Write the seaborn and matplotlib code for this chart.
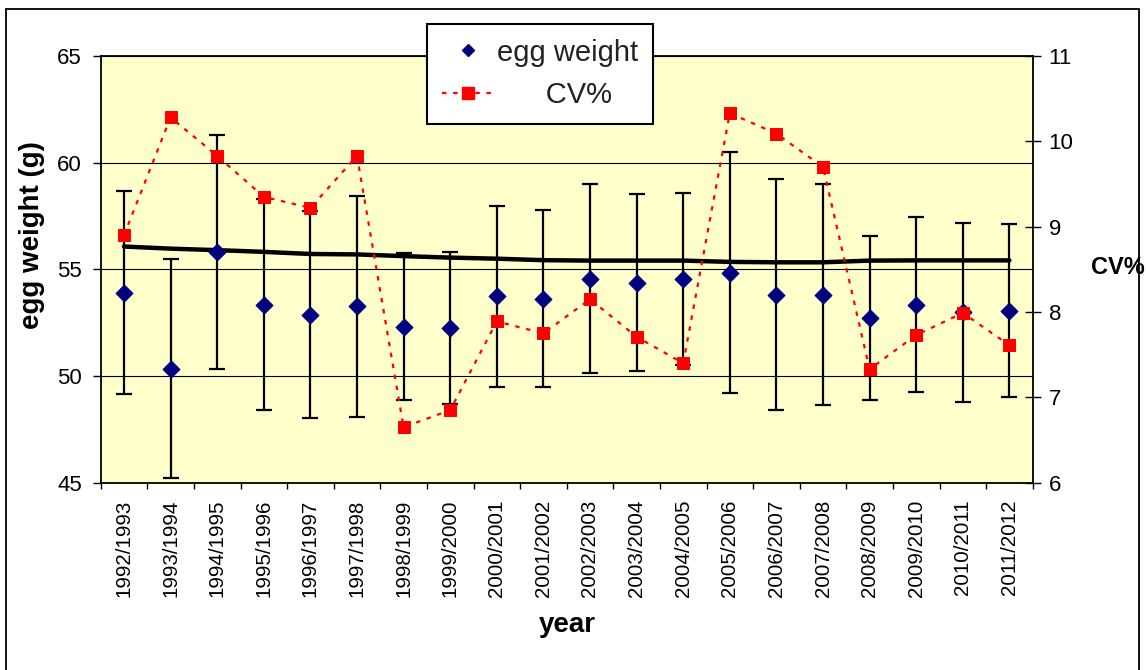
import numpy as np
import pandas as pd
import seaborn as sns
import matplotlib.pyplot as plt
from matplotlib.patches import Rectangle
from matplotlib.ticker import FixedLocator, NullFormatter

# data
years = ['1992/1993', '1993/1994', '1994/1995', '1995/1996', '1996/1997',
         '1997/1998', '1998/1999', '1999/2000', '2000/2001', '2001/2002',
         '2002/2003', '2003/2004', '2004/2005', '2005/2006', '2006/2007',
         '2007/2008', '2008/2009', '2009/2010', '2010/2011', '2011/2012']
egg_weight = [53.91, 50.35, 55.82, 53.35, 52.88, 53.26, 52.32, 52.23, 53.73, 53.63,
              54.57, 54.38, 54.57, 54.85, 53.82, 53.82, 52.71, 53.35, 52.98, 53.07]
egg_sd = [4.77, 5.15, 5.48, 4.95, 4.87, 5.19, 3.46, 3.56, 4.23, 4.16,
          4.44, 4.16, 4.03, 5.66, 5.40, 5.19, 3.83, 4.11, 4.21, 4.07]
cv_pct = [8.90, 10.28, 9.83, 9.35, 9.22, 9.83, 6.65, 6.85, 7.89, 7.75,
          8.15, 7.71, 7.40, 10.33, 10.09, 9.70, 7.33, 7.73, 7.99, 7.61]
trend = [56.07, 55.97, 55.90, 55.82, 55.72, 55.70, 55.62, 55.55, 55.50, 55.43,
         55.41, 55.41, 55.41, 55.35, 55.33, 55.33, 55.41, 55.42, 55.42, 55.42]

df = pd.DataFrame({'pos': np.arange(len(years)), 'year': years,
                   'egg': egg_weight, 'sd': egg_sd, 'cv': cv_pct, 'trend': trend})

sns.set_theme(style='white')
plt.rcParams['font.family'] = ['Liberation Sans', 'DejaVu Sans']
plt.rcParams['text.color'] = 'black'
plt.rcParams['xtick.color'] = 'black'
plt.rcParams['ytick.color'] = 'black'

W, H = 1146, 670
fig = plt.figure(figsize=(W / 100, H / 100), dpi=100)
ax = fig.add_axes([100.7 / W, 1 - 482.7 / H, 932 / W, 426.7 / H])
ax.set_facecolor('#FFFFCC')

# error bars
ax.errorbar(df['pos'], df['egg'], yerr=df['sd'], fmt='none', ecolor='black',
            elinewidth=1.6, capsize=5.5, capthick=1.6, zorder=2)
# trend line
sns.lineplot(data=df, x='pos', y='trend', ax=ax, color='black', lw=3.2,
             zorder=3, legend=False)
# egg weight diamonds
sns.scatterplot(data=df, x='pos', y='egg', ax=ax, marker='D', s=75,
                color='#000080', edgecolor='#000080', zorder=4, legend=False)

ax.set_xlim(-0.5, len(years) - 0.5)
ax.set_ylim(45, 65)
ax.set_yticks([45, 50, 55, 60, 65])
ax.yaxis.grid(True, color='black', lw=0.8)
ax.set_axisbelow(True)
ax.set_xticks(df['pos'])
ax.set_xticklabels(years, rotation=90, fontsize=14.8)
ax.xaxis.set_minor_locator(FixedLocator(np.arange(-0.5, len(years), 1.0)))
ax.xaxis.set_minor_formatter(NullFormatter())
ax.tick_params(axis='x', which='major', length=0, pad=12)
ax.tick_params(axis='x', which='minor', length=4.5, width=1, color='black',
               direction='out', bottom=True)
ax.tick_params(axis='y', length=5.5, width=1, color='black', direction='out',
               labelsize=16, pad=8, left=True)
ax.set_xlabel('')
ax.set_ylabel('')
for s in ax.spines.values():
    s.set_color('black')
    s.set_linewidth(1.3)

# CV% on secondary axis
ax2 = ax.twinx()
sns.lineplot(data=df, x='pos', y='cv', ax=ax2, color='red', lw=1.6,
             linestyle=(0, (2, 3)), marker='s', markersize=8.5,
             markeredgecolor='red', markerfacecolor='red', zorder=5, legend=False)
ax2.set_ylim(6, 11)
ax2.set_yticks([6, 7, 8, 9, 10, 11])
ax2.tick_params(axis='y', length=11, width=1, color='black', direction='inout',
                labelsize=16, pad=6, right=True)
ax2.set_xlabel('')
ax2.set_ylabel('')
ax2.grid(False)
ax2.patch.set_visible(False)
for s in ax2.spines.values():
    s.set_visible(False)

# axis titles
fig.text(32.5 / W, 1 - 235 / H, 'egg weight (g)', rotation=90, ha='center',
         va='center', fontsize=20, fontweight='bold')
fig.text(567 / W, 1 - 625 / H, 'year', ha='center', va='center',
         fontsize=20, fontweight='bold')
fig.text(1091 / W, 1 - 268 / H, 'CV%', ha='left', va='center',
         fontsize=17, fontweight='bold')

# legend
h1, = ax.plot([], [], marker='D', ls='none', color='#000080', markersize=6)
h2, = ax.plot([], [], marker='s', ls=(0, (2, 3)), lw=1.6, color='red',
              markersize=8)
leg = fig.legend([h1, h2], ['egg weight', '      CV%'], loc='upper left',
                 bbox_to_anchor=(427 / W, 1 - 24 / H), fontsize=21,
                 frameon=True, fancybox=False, borderpad=0.5, borderaxespad=0,
                 handlelength=1.8, handletextpad=0.1, labelspacing=0.5)
leg.get_frame().set_edgecolor('black')
leg.get_frame().set_linewidth(1.5)
leg.get_frame().set_facecolor('white')
leg.get_frame().set_alpha(1)
for t in leg.get_texts():
    t.set_color('#222222')

# outer frame
fig.patches.append(Rectangle((6 / W, -0.02), 1133 / W, 1.02 - 9 / H,
                             transform=fig.transFigure, fill=False,
                             edgecolor='black', lw=1.3))

fig.savefig('out.png', dpi=100, facecolor='white')
